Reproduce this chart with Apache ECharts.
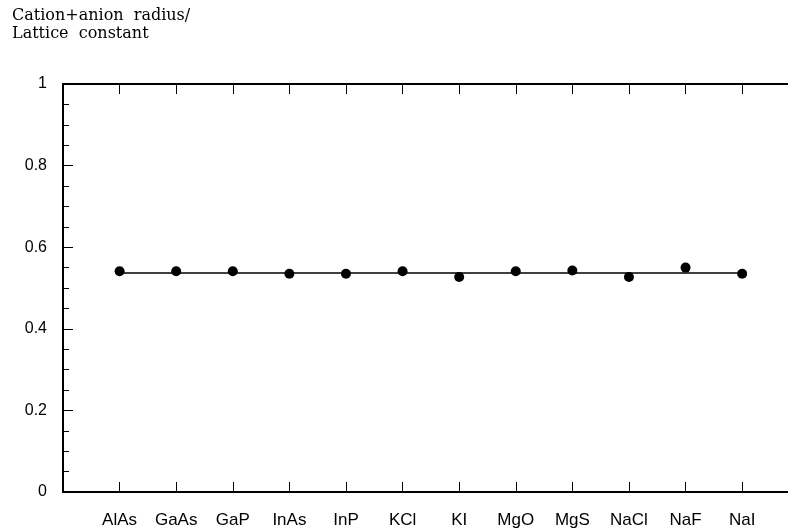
<!DOCTYPE html>
<html>
<head>
<meta charset="utf-8">
<script src="https://cdn.jsdelivr.net/npm/echarts@6/dist/echarts.min.js"></script>
<style>
html,body{margin:0;padding:0;background:#fff;}
#c{width:788px;height:529px;}
</style>
</head>
<body>
<div id="c"></div>
<script>
var categories = ['AlAs','GaAs','GaP','InAs','InP','KCl','KI','MgO','MgS','NaCl','NaF','NaI'];
var ratios = [0.541,0.541,0.541,0.535,0.535,0.541,0.527,0.541,0.543,0.527,0.550,0.535];
var meanRatio = 0.537;
var yTicks = [0, 0.2, 0.4, 0.6, 0.8, 1];
var titleLines = ['Cation+anion  radius/', 'Lattice  constant'];

var chart = echarts.init(document.getElementById('c'), null, {renderer:'canvas'});
var pts = categories.map(function(c,i){ return [i+1, ratios[i]]; });
var meanPts = [[1, meanRatio],[categories.length, meanRatio]];
var axisLineStyle = {color:'#000', width:2};
var xLabelFont = {color:'#000', fontFamily:'Liberation Sans, Arial, sans-serif', fontSize:17};
var yLabelFont = {color:'#000', fontFamily:'Liberation Sans, Arial, sans-serif', fontSize:16};
var xMax = 12.81;

chart.setOption({
  animation:false,
  backgroundColor:'#fff',
  title:{
    text: titleLines.join('\n'),
    left:7, top:2,
    textStyle:{fontFamily:'DejaVu Serif, serif', fontWeight:'normal', fontSize:16, color:'#000', lineHeight:18}
  },
  grid:{left:63, top:84, bottom:35, right:0},
  xAxis:[{
    type:'value', position:'bottom', min:0, max:xMax, interval:1,
    axisLine:{show:true, lineStyle:axisLineStyle},
    axisTick:{show:true, inside:true, length:10, lineStyle:{color:'#000', width:1}},
    splitLine:{show:false},
    axisLabel:Object.assign({margin:20, showMaxLabel:false, formatter:function(v){ return categories[v-1] || ''; }}, xLabelFont)
  },{
    type:'value', position:'top', min:0, max:xMax, interval:1,
    axisLine:{show:true, lineStyle:axisLineStyle},
    axisTick:{show:true, inside:true, length:10, lineStyle:{color:'#000', width:1}},
    splitLine:{show:false},
    axisLabel:{show:false}
  }],
  yAxis:{
    type:'value', min:yTicks[0], max:yTicks[yTicks.length-1], interval:0.2,
    axisLine:{show:true, lineStyle:axisLineStyle},
    axisTick:{show:true, inside:true, length:10, lineStyle:{color:'#000', width:1}},
    minorTick:{show:true, splitNumber:4, length:6, lineStyle:{color:'#000', width:1}},
    splitLine:{show:false},
    axisLabel:Object.assign({margin:16, formatter:function(v){ return String(Math.round(v*10)/10); }}, yLabelFont)
  },
  series:[{
    type:'line', data:meanPts, symbol:'none', xAxisIndex:0,
    lineStyle:{color:'#000', width:1.5}, z:2
  },{
    type:'scatter', data:pts, symbol:'circle', symbolSize:10, xAxisIndex:0,
    itemStyle:{color:'#000', opacity:1}, z:3
  }]
});
</script>
</body>
</html>
